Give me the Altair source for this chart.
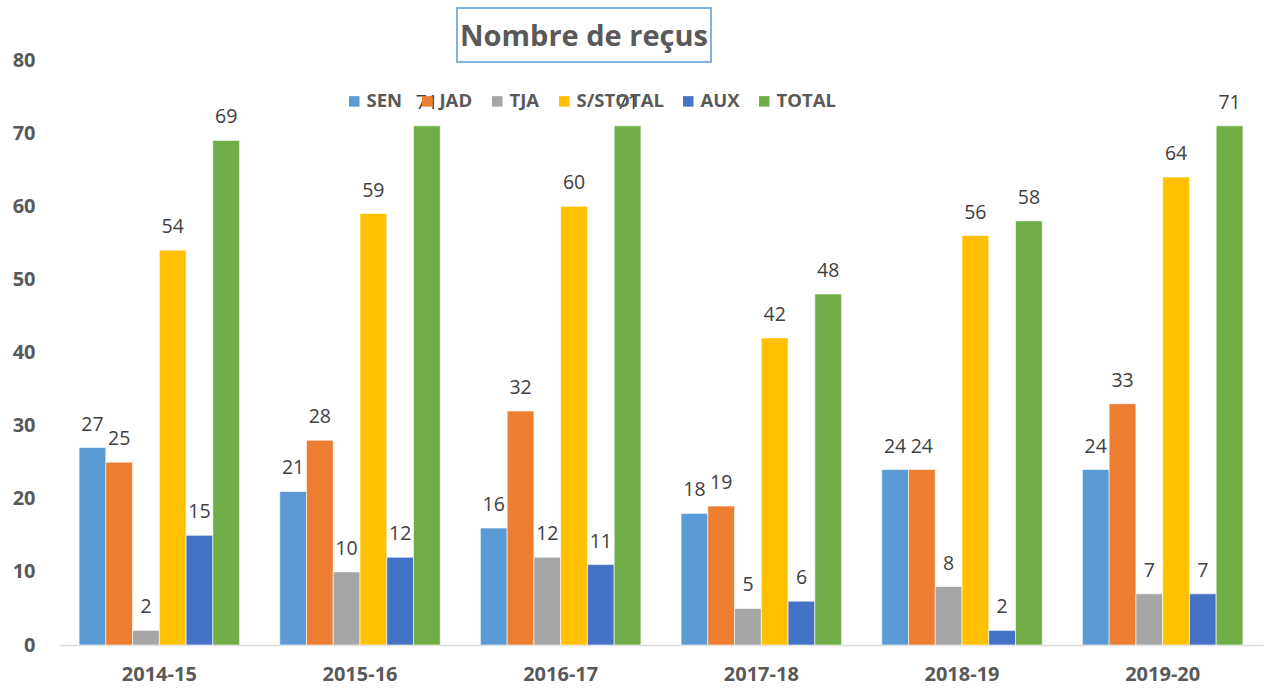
import altair as alt
import pandas as pd

years = ["2014-15", "2015-16", "2016-17", "2017-18", "2018-19", "2019-20"]
series = ["SEN", "JAD", "TJA", "S/STOTAL", "AUX", "TOTAL"]
sen = [27, 21, 16, 18, 24, 24]
jad = [25, 28, 32, 19, 24, 33]
tja = [2, 10, 12, 5, 8, 7]
sst = [54, 59, 60, 42, 56, 64]
aux = [15, 12, 11, 6, 2, 7]
total = [69, 71, 71, 48, 58, 71]
colors = ["#5B9BD5", "#ED7D31", "#A5A5A5", "#FFC000", "#4472C4", "#70AD47"]
y_ticks = [0, 10, 20, 30, 40, 50, 60, 70, 80]
title_text = "Nombre de reçus"

values = [sen, jad, tja, sst, aux, total]
rows = []
for s, vals in zip(series, values):
    for y, v in zip(years, vals):
        rows.append({"year": y, "series": s, "value": v})
df = pd.DataFrame(rows)

FONT = "Open Sans"
GRAY = "#595959"

x_enc = alt.X("year:N", sort=years, title=None,
              scale=alt.Scale(paddingInner=0.2, paddingOuter=0.1),
              axis=alt.Axis(labelAngle=0, labelFont=FONT, labelFontWeight="bold",
                            labelFontSize=20, labelColor=GRAY, ticks=False,
                            domainColor="#D9D9D9", domainWidth=1.5, labelPadding=19))
y_enc = alt.Y("value:Q", title=None,
              scale=alt.Scale(domain=[0, 80], nice=False),
              axis=alt.Axis(values=y_ticks, grid=False, domain=False, ticks=False,
                            labelFont=FONT, labelFontWeight="bold", labelFontSize=20,
                            labelColor=GRAY, labelPadding=24))
xo = alt.XOffset("series:N", sort=series, scale=alt.Scale(paddingInner=0, paddingOuter=0))

base = alt.Chart(df)

bars = base.mark_bar(stroke="white", strokeWidth=0.6).encode(
    x=x_enc, y=y_enc, xOffset=xo,
    color=alt.Color("series:N", sort=series,
                    scale=alt.Scale(domain=series, range=colors),
                    legend=alt.Legend(title=None, orient="none", direction="horizontal",
                                      columns=6, legendX=286, legendY=32,
                                      symbolType="square", symbolSize=110,
                                      symbolStrokeWidth=0, labelFont=FONT,
                                      labelFontWeight="bold", labelFontSize=18.5,
                                      labelColor=GRAY, columnPadding=15,
                                      labelOffset=3)),
)

labels = base.mark_text(font=FONT, fontSize=19.5, color="#404040", dy=-23).encode(
    x=x_enc, y=y_enc, xOffset=xo, text="value:Q"
)

tdf = pd.DataFrame({"t": [title_text]})
box = alt.Chart(tdf).mark_rect(fill="white", stroke="#5B9BD5", strokeWidth=1.5).encode(
    x=alt.value(398), x2=alt.value(652), y=alt.value(-52), y2=alt.value(2)
)
title = alt.Chart(tdf).mark_text(font=FONT, fontSize=29, fontWeight="bold",
                                 color=GRAY).encode(
    x=alt.value(525), y=alt.value(-23), text="t:N"
)

chart = alt.layer(bars, labels, box, title).properties(
    width=1204, height=585,
    autosize=alt.AutoSizeParams(type="none"),
    padding={"left": 59, "top": 60, "right": 1, "bottom": 44},
).configure(background="white").configure_view(stroke=None, strokeWidth=0)

chart.save("out.html", embed_options={"renderer": "svg", "actions": False})
